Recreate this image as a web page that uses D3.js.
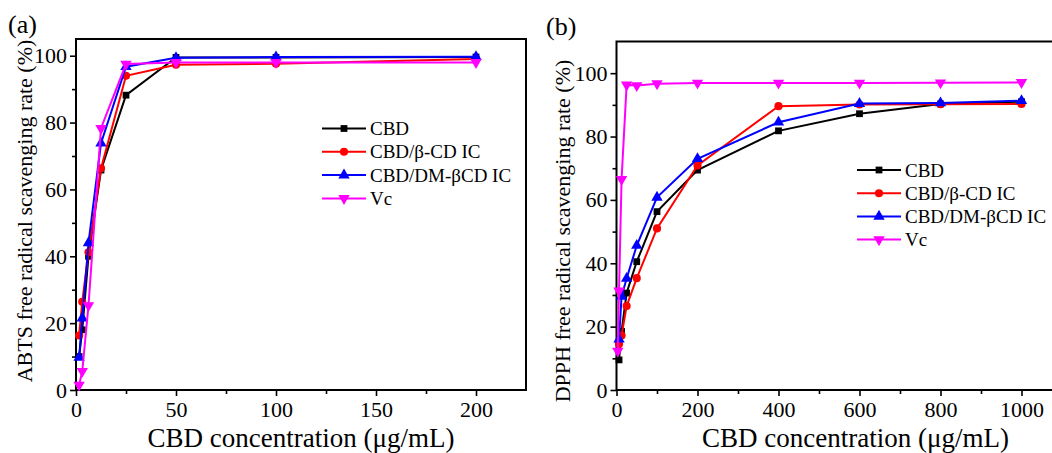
<!DOCTYPE html>
<html>
<head>
<meta charset="utf-8">
<script src="https://cdn.jsdelivr.net/npm/d3@7"></script>
<style>
  body { margin: 0; background: #fff; }
  svg { display: block; }
  text { font-family: "Liberation Serif", "Times New Roman", serif; fill: #000; }
</style>
</head>
<body>
<svg id="chart" width="1052" height="453"></svg>
<script>
// Series names shared by both panels
const seriesNames = ["CBD", "CBD/β-CD IC", "CBD/DM-βCD IC", "Vc"];
const seriesColors = ["#000000", "#ff0000", "#0000ff", "#ff00ff"];

// (a) ABTS radical scavenging
const abtsConc = [1.5625, 3.125, 6.25, 12.5, 25, 50, 100, 200];
const abtsCBD  = [10, 18, 40, 65.8, 88.2, 99.5, 99.5, 99.6];
const abtsBeta = [16.3, 26.4, 41.2, 66.3, 94, 97.3, 97.6, 99];
const abtsDM   = [9.7, 21.5, 44, 73.8, 96.7, 99.4, 99.6, 99.7];
const abtsVc   = [1.5, 5.6, 25.3, 78.3, 97.5, 98, 98, 98];

// (b) DPPH radical scavenging
const dpphConc   = [6.25, 12.5, 25, 50, 100, 200, 400, 600, 800, 1000];
const dpphCBD    = [9.5, 18.5, 30.6, 40.5, 56.3, 69.4, 81.8, 87.2, 90.3, 91];
const dpphBeta   = [14.5, 17.2, 26.5, 35.3, 51, 70.9, 89.6, 90.1, 90.2, 90.3];
const dpphDM     = [16, 29.5, 35.2, 45.6, 60.8, 73, 84.5, 90.4, 90.6, 91.3];
const dpphVcConc = [3.125, 6.25, 12.5, 25, 50, 100, 200, 400, 600, 800, 1000];
const dpphVc     = [12.3, 31.3, 66.5, 96.3, 96.1, 96.7, 96.9, 96.9, 96.9, 97, 97.1];

// Tick values
const abtsXMajor = [0, 50, 100, 150, 200];
const abtsXMinor = [25, 75, 125, 175];
const abtsYMajor = [0, 20, 40, 60, 80, 100];
const abtsYMinor = [10, 30, 50, 70, 90];
const dpphXMajor = [0, 200, 400, 600, 800, 1000];
const dpphXMinor = [100, 300, 500, 700, 900, 1100];
const dpphYMajor = [0, 20, 40, 60, 80, 100];
const dpphYMinor = [10, 30, 50, 70, 90];

const svg = d3.select("#chart");
const tickFmt = d3.format("d");

const markerTypes = [
  { type: d3.symbolSquare, size: 46, rot: 0 },
  { type: d3.symbolCircle, size: 52, rot: 0 },
  { type: d3.symbolTriangle, size: 56, rot: 0 },
  { type: d3.symbolTriangle, size: 56, rot: 180 }
];

function drawPanel(cfg) {
  const g = svg.append("g");
  const x = d3.scaleLinear().domain(cfg.xDomain).range(cfg.xRange);
  const y = d3.scaleLinear().domain(cfg.yDomain).range(cfg.yRange);

  // frame
  g.append("rect")
    .attr("x", cfg.xRange[0]).attr("y", cfg.yRange[1])
    .attr("width", cfg.xRange[1] - cfg.xRange[0])
    .attr("height", cfg.yRange[0] - cfg.yRange[1])
    .attr("fill", "none").attr("stroke", "#000").attr("stroke-width", 2);

  // axes
  const xAxis = g.append("g").attr("transform", `translate(0,${cfg.yRange[0]})`)
    .call(d3.axisBottom(x).tickValues(cfg.xMajor).tickFormat(tickFmt)
      .tickSize(6).tickSizeOuter(0).tickPadding(5));
  const xMinor = g.append("g").attr("transform", `translate(0,${cfg.yRange[0]})`)
    .call(d3.axisBottom(x).tickValues(cfg.xMinor).tickSize(4).tickSizeOuter(0).tickFormat(""));
  const yAxis = g.append("g").attr("transform", `translate(${cfg.xRange[0]},0)`)
    .call(d3.axisLeft(y).tickValues(cfg.yMajor).tickFormat(tickFmt)
      .tickSize(6).tickSizeOuter(0).tickPadding(3));
  const yMinor = g.append("g").attr("transform", `translate(${cfg.xRange[0]},0)`)
    .call(d3.axisLeft(y).tickValues(cfg.yMinor).tickSize(4).tickSizeOuter(0).tickFormat(""));
  [xAxis, xMinor, yAxis, yMinor].forEach(a => {
    a.select(".domain").remove();
    a.selectAll("line").attr("stroke", "#000").attr("stroke-width", 1.6);
    a.selectAll("text").attr("font-size", 22)
      .attr("font-family", "'Liberation Serif','Times New Roman',serif").attr("fill", "#000");
  });

  // series
  const line = d3.line().x(d => x(d[0])).y(d => y(d[1]));
  cfg.series.forEach((s, i) => {
    const pts = s.xs.map((v, k) => [v, s.ys[k]]);
    g.append("path").datum(pts)
      .attr("d", line).attr("fill", "none")
      .attr("stroke", seriesColors[i]).attr("stroke-width", 2);
    const m = markerTypes[i];
    g.selectAll(null).data(pts).enter().append("path")
      .attr("d", d3.symbol().type(m.type).size(m.size))
      .attr("transform", d => `translate(${x(d[0])},${y(d[1])}) rotate(${m.rot})`)
      .attr("fill", seriesColors[i]);
  });

  // legend
  const lg = g.append("g");
  seriesNames.forEach((name, i) => {
    const ly = cfg.legend.y + i * cfg.legend.dy;
    lg.append("line")
      .attr("x1", cfg.legend.x).attr("x2", cfg.legend.x + 44)
      .attr("y1", ly).attr("y2", ly)
      .attr("stroke", seriesColors[i]).attr("stroke-width", 2);
    const m = markerTypes[i];
    lg.append("path")
      .attr("d", d3.symbol().type(m.type).size(m.size))
      .attr("transform", `translate(${cfg.legend.x + 22},${ly}) rotate(${m.rot})`)
      .attr("fill", seriesColors[i]);
    lg.append("text")
      .attr("x", cfg.legend.x + 48).attr("y", ly + 6.5)
      .attr("font-size", 19).text(name);
  });

  // titles
  g.append("text")
    .attr("x", (cfg.xRange[0] + cfg.xRange[1]) / 2).attr("y", cfg.xTitleY)
    .attr("text-anchor", "middle").attr("font-size", 27)
    .text("CBD concentration (μg/mL)");
  g.append("text")
    .attr("transform", `translate(${cfg.yTitleX},${cfg.yTitleCY}) rotate(-90)`)
    .attr("text-anchor", "middle").attr("font-size", 22)
    .text(cfg.yTitle);
  g.append("text")
    .attr("x", cfg.tag.x).attr("y", cfg.tag.y)
    .attr("font-size", 26).text(cfg.tag.text);
}

drawPanel({
  xDomain: [0, 225], xRange: [76, 526],
  yDomain: [0, 105], yRange: [390, 39],
  xMajor: abtsXMajor, xMinor: abtsXMinor, yMajor: abtsYMajor, yMinor: abtsYMinor,
  series: [
    { xs: abtsConc, ys: abtsCBD },
    { xs: abtsConc, ys: abtsBeta },
    { xs: abtsConc, ys: abtsDM },
    { xs: abtsConc, ys: abtsVc }
  ],
  legend: { x: 322, y: 128.5, dy: 23.3 },
  xTitleY: 447, yTitleX: 32, yTitleCY: 211,
  yTitle: "ABTS free radical scavenging rate (%)",
  tag: { x: 8, y: 33, text: "(a)" }
});

drawPanel({
  xDomain: [0, 1180], xRange: [616.5, 1094.4],
  yDomain: [0, 110], yRange: [390, 41.5],
  xMajor: dpphXMajor, xMinor: dpphXMinor, yMajor: dpphYMajor, yMinor: dpphYMinor,
  series: [
    { xs: dpphConc, ys: dpphCBD },
    { xs: dpphConc, ys: dpphBeta },
    { xs: dpphConc, ys: dpphDM },
    { xs: dpphVcConc, ys: dpphVc }
  ],
  legend: { x: 857, y: 170, dy: 23.2 },
  xTitleY: 447, yTitleX: 570, yTitleCY: 231,
  yTitle: "DPPH free radical scavenging rate (%)",
  tag: { x: 546, y: 35, text: "(b)" }
});
</script>
</body>
</html>
